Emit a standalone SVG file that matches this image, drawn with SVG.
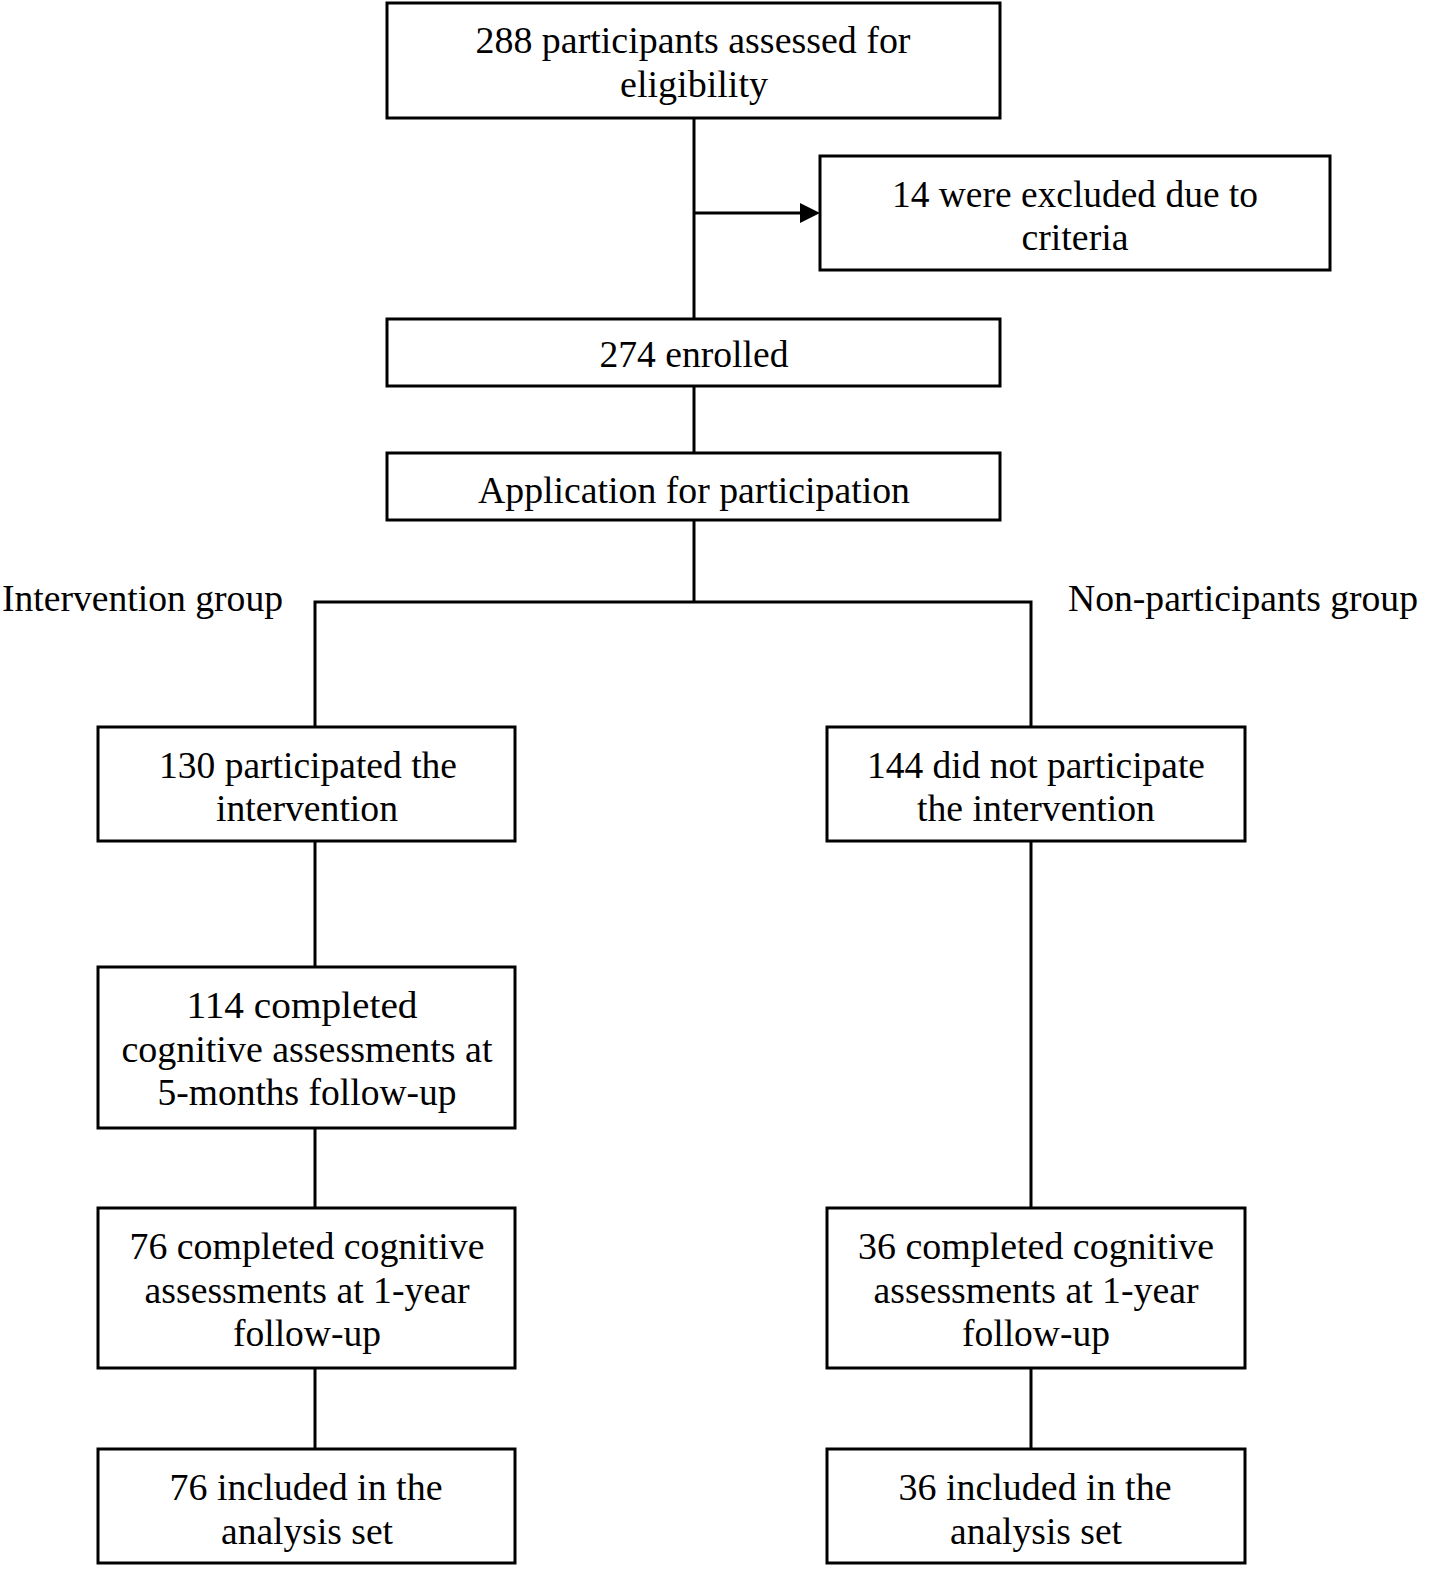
<svg xmlns="http://www.w3.org/2000/svg" width="1429" height="1578" viewBox="0 0 1429 1578">
<style>
.b{fill:#fff;stroke:#000;stroke-width:3}
.c{fill:none;stroke:#000;stroke-width:3}
text{font-family:'Liberation Serif','Times New Roman',serif;font-size:38px;fill:#000;text-anchor:middle}
.l{text-anchor:start}
</style>
<rect width="1429" height="1578" fill="#fff"/>
<g id="connectors">
<path class="c" d="M694,118 V319"/>
<path class="c" d="M694,213 H802"/>
<path d="M800,203 L820,213 L800,223 z" fill="#000"/>
<path class="c" d="M694,386 V453"/>
<path class="c" d="M694,520 V602"/>
<path class="c" d="M315,727 V602 H1031 V727"/>
<path class="c" d="M315,841 V967"/>
<path class="c" d="M315,1128 V1208"/>
<path class="c" d="M315,1368 V1449"/>
<path class="c" d="M1031,841 V1208"/>
<path class="c" d="M1031,1368 V1449"/>
</g>
<g id="n1"><rect class="b" x="387" y="3" width="613" height="115"/>
<text x="693" y="53" textLength="435" lengthAdjust="spacingAndGlyphs">288 participants assessed for</text>
<text x="694" y="97" textLength="148" lengthAdjust="spacingAndGlyphs">eligibility</text></g>
<g id="n2"><rect class="b" x="820" y="156" width="510" height="114"/>
<text x="1075" y="207" textLength="366" lengthAdjust="spacingAndGlyphs">14 were excluded due to</text>
<text x="1075" y="250" textLength="107" lengthAdjust="spacingAndGlyphs">criteria</text></g>
<g id="n3"><rect class="b" x="387" y="319" width="613" height="67"/>
<text x="694" y="367" textLength="189" lengthAdjust="spacingAndGlyphs">274 enrolled</text></g>
<g id="n4"><rect class="b" x="387" y="453" width="613" height="67"/>
<text x="694" y="503" textLength="432" lengthAdjust="spacingAndGlyphs">Application for participation</text></g>
<g id="lbl1"><text class="l" x="2" y="611" textLength="281" lengthAdjust="spacingAndGlyphs">Intervention group</text></g>
<g id="lbl2"><text class="l" x="1068" y="611" textLength="350" lengthAdjust="spacingAndGlyphs">Non-participants group</text></g>
<g id="n5"><rect class="b" x="98" y="727" width="417" height="114"/>
<text x="308" y="778" textLength="298" lengthAdjust="spacingAndGlyphs">130 participated the</text>
<text x="307" y="821" textLength="182" lengthAdjust="spacingAndGlyphs">intervention</text></g>
<g id="n6"><rect class="b" x="827" y="727" width="418" height="114"/>
<text x="1036" y="778" textLength="338" lengthAdjust="spacingAndGlyphs">144 did not participate</text>
<text x="1036" y="821" textLength="238" lengthAdjust="spacingAndGlyphs">the intervention</text></g>
<g id="n7"><rect class="b" x="98" y="967" width="417" height="161"/>
<text x="302" y="1018" textLength="231" lengthAdjust="spacingAndGlyphs">114 completed</text>
<text x="307" y="1062" textLength="371" lengthAdjust="spacingAndGlyphs">cognitive assessments at</text>
<text x="307" y="1105" textLength="299" lengthAdjust="spacingAndGlyphs">5-months follow-up</text></g>
<g id="n8"><rect class="b" x="98" y="1208" width="417" height="160"/>
<text x="307" y="1259" textLength="355" lengthAdjust="spacingAndGlyphs">76 completed cognitive</text>
<text x="307" y="1303" textLength="325" lengthAdjust="spacingAndGlyphs">assessments at 1-year</text>
<text x="307" y="1346" textLength="148" lengthAdjust="spacingAndGlyphs">follow-up</text></g>
<g id="n9"><rect class="b" x="827" y="1208" width="418" height="160"/>
<text x="1036" y="1259" textLength="356" lengthAdjust="spacingAndGlyphs">36 completed cognitive</text>
<text x="1036" y="1303" textLength="325" lengthAdjust="spacingAndGlyphs">assessments at 1-year</text>
<text x="1036" y="1346" textLength="148" lengthAdjust="spacingAndGlyphs">follow-up</text></g>
<g id="n10"><rect class="b" x="98" y="1449" width="417" height="114"/>
<text x="306" y="1500" textLength="273" lengthAdjust="spacingAndGlyphs">76 included in the</text>
<text x="307" y="1544" textLength="172" lengthAdjust="spacingAndGlyphs">analysis set</text></g>
<g id="n11"><rect class="b" x="827" y="1449" width="418" height="114"/>
<text x="1035" y="1500" textLength="273" lengthAdjust="spacingAndGlyphs">36 included in the</text>
<text x="1036" y="1544" textLength="172" lengthAdjust="spacingAndGlyphs">analysis set</text></g>
</svg>
